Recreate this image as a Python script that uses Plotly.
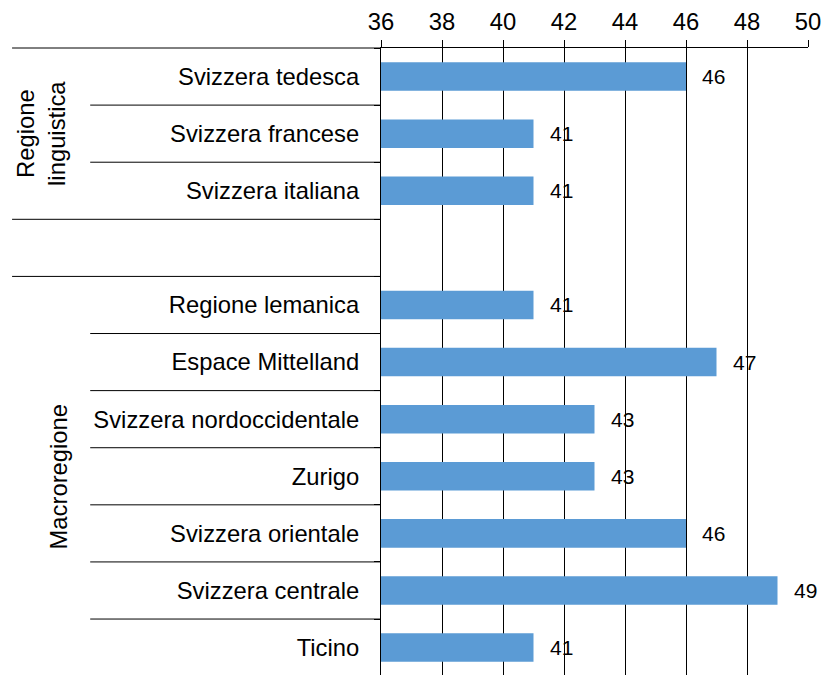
import plotly.graph_objects as go

categories = ["Svizzera tedesca", "Svizzera francese", "Svizzera italiana", " ",
              "Regione lemanica", "Espace Mittelland", "Svizzera nordoccidentale",
              "Zurigo", "Svizzera orientale", "Svizzera centrale", "Ticino"]
values = [46, 41, 41, None, 41, 47, 43, 43, 46, 49, 41]
tick_vals = [36, 38, 40, 42, 44, 46, 48, 50]
group_labels = ["Regione<br>linguistica", "Macroregione"]
group_rows = [(0, 2), (4, 10)]

FONT = "Liberation Sans, Arial, sans-serif"
BAR = "#5B9BD5"

fig = go.Figure()
fig.add_trace(go.Bar(
    y=categories, x=values, orientation="h",
    marker=dict(color=BAR, line=dict(width=0)),
    width=0.5, hoverinfo="skip",
))

annotations = []
for c, v in zip(categories, values):
    if v is None:
        continue
    annotations.append(dict(x=v, y=c, xref="x", yref="y", text=str(v),
                            showarrow=False, xanchor="left", yanchor="middle",
                            xshift=14, font=dict(family=FONT, size=21, color="#000")))

gx = [-0.798, -0.756]
for lbl, (a, b), xx in zip(group_labels, group_rows, gx):
    annotations.append(dict(x=xx, y=(a + b) / 2, xref="paper", yref="y", text=lbl,
                            showarrow=False, textangle=-90, xanchor="center",
                            yanchor="middle", align="center",
                            font=dict(family=FONT, size=23.8, color="#000")))

shapes = []
group_bounds = {2.5, 3.5}
for i in range(len(categories) - 1):
    yb = i + 0.5
    x0 = -0.864 if yb in group_bounds else -0.681
    shapes.append(dict(type="line", xref="paper", yref="y", x0=x0, x1=0, y0=yb, y1=yb,
                       line=dict(color="#000", width=1)))
shapes.append(dict(type="line", xref="paper", yref="paper", x0=-0.864, x1=0, y0=1, y1=1,
                   line=dict(color="#000", width=1)))

# page body has an 8px margin, so the figure is drawn 8px in from the corner
fig.update_layout(
    width=821, height=667,
    margin=dict(l=373, r=21, t=40, b=0),
    paper_bgcolor="white", plot_bgcolor="white",
    showlegend=False,
    font=dict(family=FONT, size=23.8, color="#000"),
    xaxis=dict(side="top", range=[36, 50], tickvals=tick_vals,
               showgrid=True, gridcolor="#000", gridwidth=1,
               showline=True, linecolor="#000", linewidth=1,
               ticks="outside", ticklen=7, tickcolor="#000",
               zeroline=False, tickfont=dict(family=FONT, size=23.8),
               fixedrange=True),
    yaxis=dict(type="category", categoryorder="array", categoryarray=categories,
               range=[10.48, -0.5], showgrid=False,
               showline=True, linecolor="#000", linewidth=1,
               ticks="outside", ticklen=6, tickcolor="#000", tickson="boundaries",
               ticklabelstandoff=16,
               tickfont=dict(family=FONT, size=23.8), fixedrange=True),
    annotations=annotations,
    shapes=shapes,
)

fig.write_html("out.html")
